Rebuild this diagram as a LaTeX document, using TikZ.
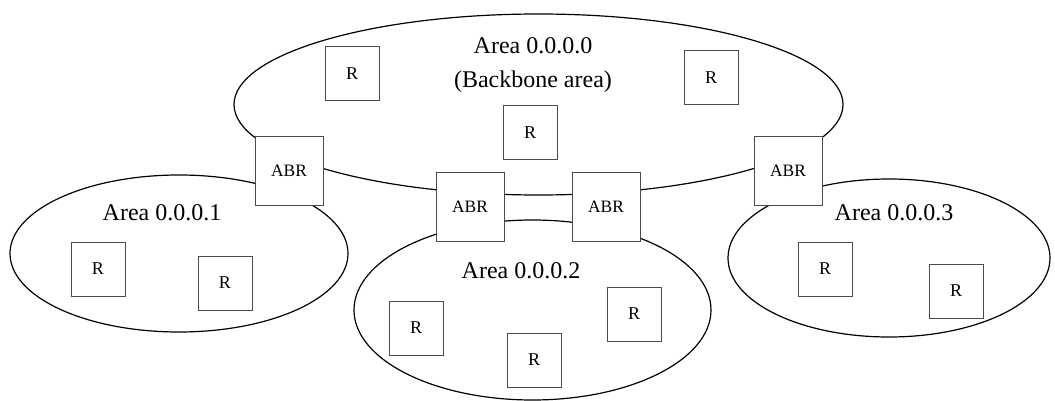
\documentclass[tikz,border=0pt]{standalone}
\usepackage{fontspec}
\setmainfont{Liberation Serif}
\usetikzlibrary{shapes.geometric}

\begin{document}
\begin{tikzpicture}[x=0.5pt, y=-0.5pt,
  area/.style={ellipse, draw, line width=0.6pt, inner sep=0pt},
  rt/.style={rectangle, draw=black!70, line width=0.5pt, fill=white, minimum size=27pt, inner sep=0pt, font=\fontsize{9}{10}\selectfont},
  abr/.style={rectangle, draw=black!70, line width=0.5pt, fill=white, minimum size=34pt, inner sep=0pt, font=\fontsize{8.7}{10}\selectfont},
  lbl/.style={align=center, inner sep=0pt, font=\fontsize{12}{17}\selectfont}
]
  \useasboundingbox (0,0) rectangle (1055,401);
  % areas
  \node[area, minimum width=304.5pt, minimum height=90.5pt] (area0) at (538.5,104.5) {};
  \node[area, minimum width=169pt,   minimum height=78.5pt] (area1) at (179,253.5) {};
  \node[area, minimum width=178.5pt, minimum height=90pt]   (area2) at (532.5,310) {};
  \node[area, minimum width=161pt,   minimum height=79pt]   (area3) at (889,258) {};
  \node[lbl] (lbl0) at (533,65)  {Area 0.0.0.0\\(Backbone area)};
  \node[lbl] (lbl1) at (162,213) {Area 0.0.0.1};
  \node[lbl] (lbl2) at (521,271) {Area 0.0.0.2};
  \node[lbl] (lbl3) at (894,213) {Area 0.0.0.3};
  % border routers
  \node[abr] (abr1) at (289,171) {ABR};
  \node[abr] (abr2) at (470,207) {ABR};
  \node[abr] (abr3) at (606,207) {ABR};
  \node[abr] (abr4) at (788,171) {ABR};
  % routers
  \node[rt] (r01) at (352,74)  {R};
  \node[rt] (r02) at (530,133) {R};
  \node[rt] (r03) at (711,78)  {R};
  \node[rt] (r11) at (98,269)  {R};
  \node[rt] (r12) at (225,283) {R};
  \node[rt] (r21) at (416,328) {R};
  \node[rt] (r22) at (534,360) {R};
  \node[rt] (r23) at (634,314) {R};
  \node[rt] (r31) at (825,269) {R};
  \node[rt] (r32) at (956,291) {R};
\end{tikzpicture}
\end{document}
